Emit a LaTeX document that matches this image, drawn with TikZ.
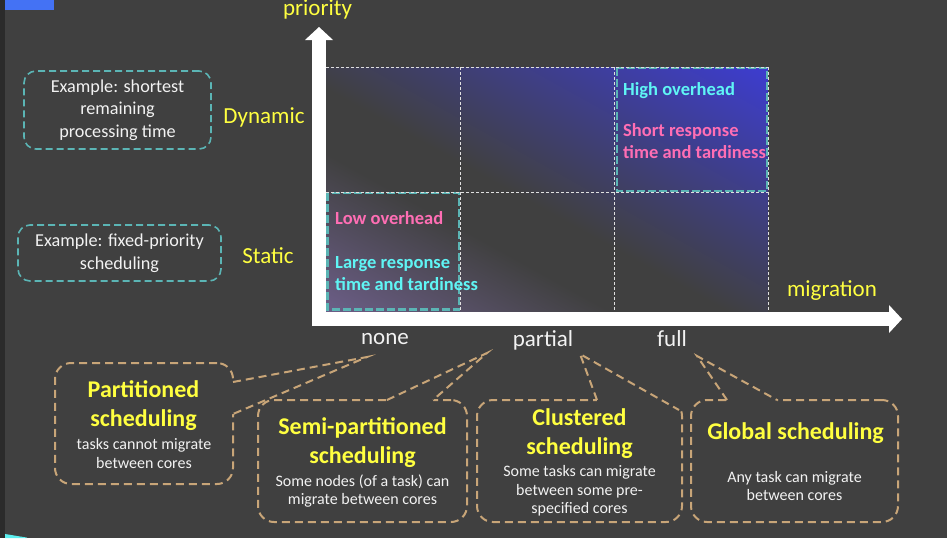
\documentclass[tikz,border=0pt]{standalone}
\usepackage{fontspec}
\setmainfont{Carlito}
\usetikzlibrary{arrows.meta,calc}
\definecolor{bgc}{HTML}{404040}
\definecolor{stripc}{HTML}{2B2B2B}
\definecolor{tagblue}{HTML}{4472F4}
\definecolor{cyanbit}{HTML}{5CF0F0}
\definecolor{ylw}{HTML}{FFFF40}
\definecolor{pnk}{HTML}{FF6EB4}
\definecolor{cyn}{HTML}{5FF5F5}
\definecolor{tealline}{HTML}{5BB5B5}
\definecolor{callline}{HTML}{C8A578}
\definecolor{purp}{HTML}{8C74BC}
\definecolor{blu}{HTML}{3C3CFF}
\definecolor{txt}{HTML}{F2F2F2}
\definecolor{gridc}{HTML}{E0E0E0}
\pgfdeclarehorizontalshading{gridshade}{100bp}{color(0bp)=(purp); color(38bp)=(bgc); color(47bp)=(bgc); color(96bp)=(blu); color(100bp)=(blu)}
\tikzset{
  axislabel/.style={font=\fontsize{23}{28}\selectfont, text=ylw, inner sep=0pt, anchor=base},
  ticklabel/.style={font=\fontsize{23}{28}\selectfont, text=txt, inner sep=0pt, anchor=base},
  exbox/.style={draw=tealline, line width=1.6pt, dash pattern=on 7pt off 4pt, rounded corners=12pt,
     font=\fontsize{18.2}{22.5}\selectfont, text=txt, align=center, inner sep=0pt},
  callbox/.style={draw=callline, line width=2pt, dash pattern=on 8pt off 5pt, rounded corners=16pt, inner sep=0pt},
  pointer/.style={draw=callline, line width=2pt, dash pattern=on 8pt off 5pt},
  ctitle/.style={font=\fontsize{24}{29}\selectfont\bfseries, text=ylw, align=center, inner sep=0pt},
  cdesc/.style={font=\fontsize{16}{18.7}\selectfont, text=txt, align=center, inner sep=0pt},
  gtext/.style={font=\fontsize{18.5}{22.5}\selectfont\bfseries, align=left, inner sep=0pt, anchor=west},
  gridl/.style={draw=gridc, line width=1pt, dash pattern=on 3pt off 2pt},
  hibox/.style={draw=tealline, line width=2.8pt, dash pattern=on 8pt off 3pt},
  axisarrow/.style={draw=white, line width=14pt, -{Triangle[length=13pt,width=28pt,line width=0pt]}}
}
\begin{document}
\begin{tikzpicture}[x=1pt,y=-1pt]
\fill[bgc] (0,0) rectangle (947,538);
\useasboundingbox (0,0) rectangle (947,538);
\fill[stripc] (0,0) rectangle (5,538);
\fill[tagblue] (5,0) rectangle (54,10);
\fill[cyanbit] (5,534) -- (27,537.6) -- (27,538) -- (5,538) -- cycle;

% gradient field
\shade[shading=gridshade, shading angle=61] (326,67) rectangle (768,312);

% highlighted cells
\draw[hibox] (327.5,193) rectangle (459,309.5);
\draw[hibox] (617,68) rectangle (767,191);

% grid
\draw[gridl] (326,67) -- (768,67);
\draw[gridl] (326,192) -- (768,192);
\draw[gridl] (460,67) -- (460,312);
\draw[gridl] (614,67) -- (614,312);
\draw[gridl] (768,67) -- (768,312);

% axes
\coordinate (vbase) at (319,326);
\coordinate (vtip) at (319,27);
\coordinate (hbase) at (312,319);
\coordinate (htip) at (902,319);
\draw[axisarrow] (vbase) -- (vtip);
\draw[axisarrow] (hbase) -- (htip);

% axis labels
\node[axislabel] (prio) at (317.5,16) {priority};
\node[axislabel] (mig) at (832,296) {migration};
\node[axislabel] (dyn) at (264,123) {Dynamic};
\node[axislabel] (stat) at (268,263) {Static};
\node[ticklabel] (none) at (385,344) {none};
\node[ticklabel] (partial) at (543,346) {partial};
\node[ticklabel] (full) at (672,346) {full};

% example boxes
\node[exbox, minimum width=187pt, minimum height=78pt] (ex1) at (117.5,110) {Example: shortest\\remaining\\processing time};
\node[exbox, minimum width=203pt, minimum height=56pt] (ex2) at (119.5,253) {Example: fixed-priority\\scheduling};

% cell texts
\node[gtext, text=cyn] (hio) at (623,91) {High overhead};
\node[gtext, text=pnk] (srt) at (623,141) {Short response\\time and tardiness};
\node[gtext, text=pnk] (loo) at (335,218) {Low overhead};
\node[gtext, text=cyn] (lrt) at (335,273.5) {Large response\\time and tardiness};

% callout boxes
\node[callbox, minimum width=178pt, minimum height=121pt] (part) at (144,423.5) {};
\node[callbox, minimum width=209pt, minimum height=122pt] (semi) at (362.5,461) {};
\node[callbox, minimum width=205pt, minimum height=122pt] (clus) at (579.5,461) {};
\node[callbox, minimum width=207pt, minimum height=122pt] (glob) at (794.5,461) {};

% pointer tips and bases
\coordinate (tA) at (367,357);
\coordinate (a1) at (233,382);
\coordinate (a2) at (233,414);
\coordinate (tB) at (487,353);
\coordinate (b1) at (387,400);
\coordinate (b2) at (433,400);
\coordinate (tC) at (580,354);
\coordinate (c1) at (597,400);
\coordinate (c2) at (679,410);
\coordinate (tD) at (697,356);
\coordinate (d1) at (727,400);
\coordinate (d2) at (777,400);

% erase border under pointers
\fill[bgc] ($(a1)+(-3,0)$) -- (a1) -- (tA) -- (a2) -- ($(a2)+(-3,0)$) -- cycle;
\fill[bgc] ($(b1)+(0,3)$) -- (b1) -- (tB) -- (b2) -- ($(b2)+(0,3)$) -- cycle;
\fill[bgc] ($(c1)+(0,3)$) -- (c1) -- (tC) -- (c2) -- ($(c2)+(0,-3)$) -- cycle;
\fill[bgc] (598,396) rectangle (685,409);
\fill[bgc] ($(d1)+(0,3)$) -- (d1) -- (tD) -- (d2) -- ($(d2)+(0,3)$) -- cycle;

\draw[pointer] (a1) -- (tA) -- (a2);
\draw[pointer] (b1) -- (tB) -- (b2);
\draw[pointer] (c1) -- (tC) -- (c2);
\draw[pointer] (d1) -- (tD) -- (d2);

% callout texts
\node[ctitle] (partT) at (143.5,405.5) {Partitioned\\scheduling};
\node[cdesc] (partD) at (144,453.5) {tasks cannot migrate\\between cores};
\node[ctitle] (semiT) at (362.5,442.5) {Semi-partitioned\\scheduling};
\node[cdesc] (semiD) at (362.5,491) {Some nodes (of a task) can\\migrate between cores};
\node[ctitle] (clusT) at (579.5,433.5) {Clustered\\scheduling};
\node[cdesc] (clusD) at (579.5,491) {Some tasks can migrate\\between some pre-\\specified cores};
\node[ctitle] (globT) at (795.5,433) {Global scheduling};
\node[cdesc] (globD) at (794.5,486) {Any task can migrate\\between cores};
\end{tikzpicture}
\end{document}
